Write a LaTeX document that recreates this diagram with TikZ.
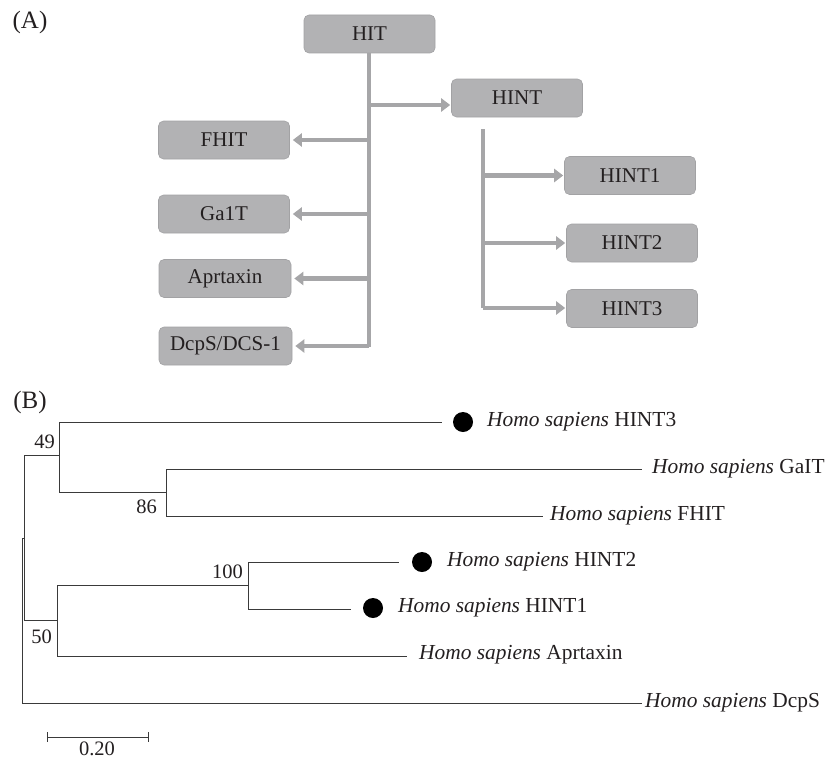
\documentclass[tikz,border=0pt]{standalone}
\usepackage{fontspec}
\setmainfont{Liberation Serif}
\usetikzlibrary{arrows.meta}
\definecolor{boxfill}{HTML}{B2B2B4}
\definecolor{boxedge}{HTML}{A2A2A4}
\definecolor{arrgray}{HTML}{A6A6A8}
\definecolor{txt}{HTML}{231F20}
\definecolor{treeline}{HTML}{3A3A3A}
\tikzset{
  gbox/.style={draw=boxedge, line width=0.6pt, fill=boxfill, rounded corners=5pt,
    minimum width=131pt, minimum height=38pt, inner sep=0pt, text=txt,
    font=\fontsize{21}{24}\selectfont},
  trunk/.style={draw=arrgray, line width=4.2pt},
  garr/.style={draw=arrgray, line width=4.2pt, -{Triangle[length=9pt,width=13pt]}, shorten >=3pt},
  tline/.style={draw=treeline, line width=1pt},
  leaf/.style={anchor=west, inner sep=0pt, text=txt, font=\fontsize{21.4}{24}\selectfont},
  blabel/.style={inner sep=0pt, text=txt, font=\fontsize{20.5}{24}\selectfont},
  dotnode/.style={circle, fill=black, minimum size=20pt, inner sep=0pt},
  panel/.style={inner sep=0pt, text=txt, font=\fontsize{25}{28}\selectfont}
}
\begin{document}
\begin{tikzpicture}[x=1pt, y=-1pt]
\useasboundingbox (0,0) rectangle (826,760);

% ---------- Panel A ----------
\node[panel] (labA) at (30,22) {(A)};
\node[gbox] (HIT) at (369.5,34) {HIT};
\node[gbox] (HINT) at (517,98) {HINT};
\node[gbox] (FHIT) at (224,140) {FHIT};
\node[gbox] (GalT) at (224,214) {Ga1T};
\node[gbox, minimum width=132pt] (Aprt) at (225,278.5) {Aprtaxin};
\node[gbox, minimum width=133pt] (Dcps) at (225.5,346) {DcpS/DCS-1};
\node[gbox] (HINT1) at (630,175.5) {HINT1};
\node[gbox] (HINT2) at (632,243) {HINT2};
\node[gbox] (HINT3) at (632,308.5) {HINT3};

\coordinate (trunkend) at (369,347);
\draw[trunk] (HIT.south -| trunkend) -- (trunkend);
\coordinate (hintin) at ([yshift=-7pt]HINT.west);
\draw[garr, shorten >=1pt] (trunkend |- hintin) -- (hintin);
\draw[garr] (trunkend |- FHIT.east) -- (FHIT.east);
\draw[garr] (trunkend |- GalT.east) -- (GalT.east);
\draw[garr] (trunkend |- Aprt.east) -- (Aprt.east);
\draw[garr] (trunkend |- Dcps.east) -- (Dcps.east);

\coordinate (htop) at (483,129);
\coordinate (hbot) at (483,308);
\draw[trunk] (htop) -- (hbot);
\draw[garr, shorten >=1pt] (htop |- HINT1.west) -- (HINT1.west);
\draw[garr, shorten >=1pt] (htop |- HINT2.west) -- (HINT2.west);
\draw[garr, shorten >=1pt] (hbot) -- (hbot -| HINT3.west);

% ---------- Panel B ----------
\node[panel] (labB) at (30,402) {(B)};

\coordinate (root) at (22,538);
\coordinate (rootb) at (22,703);
\coordinate (nA) at (24,538);
\coordinate (nAt) at (24,455);
\coordinate (nAb) at (24,620);
\coordinate (n49) at (59,455);
\coordinate (n49t) at (59,422);
\coordinate (n49b) at (59,492);
\coordinate (n86) at (166,492);
\coordinate (n86t) at (166,469);
\coordinate (n86b) at (166,516);
\coordinate (n50) at (57,620);
\coordinate (n50t) at (57,585);
\coordinate (n50b) at (57,656);
\coordinate (n100) at (248,585);
\coordinate (n100t) at (248,562);
\coordinate (n100b) at (248,609);

% leaves
\coordinate (eHINT3) at (442,422);
\node[dotnode] (dHINT3) at (463,422) {};
\node[leaf] (tHINT3) at (487,422) {\textit{Homo sapiens} HINT3};
\coordinate (eGalT) at (642,469);
\node[leaf] (tGalT) at (652,469) {\textit{Homo sapiens} GaIT};
\coordinate (eFHIT) at (543,516);
\node[leaf] (tFHIT) at (550,516) {\textit{Homo sapiens} FHIT};
\coordinate (eHINT2) at (399,562);
\node[dotnode] (dHINT2) at (422,562) {};
\node[leaf] (tHINT2) at (447,562) {\textit{Homo sapiens} HINT2};
\coordinate (eHINT1) at (351,609);
\node[dotnode] (dHINT1) at (373,608) {};
\node[leaf] (tHINT1) at (398,608) {\textit{Homo sapiens} HINT1};
\coordinate (eAprt) at (407,656);
\node[leaf] (tAprt) at (419,655) {\textit{Homo sapiens} Aprtaxin};
\coordinate (eDcps) at (642,703);
\node[leaf] (tDcps) at (645,703) {\textit{Homo sapiens} DcpS};

% branches
\draw[tline] (root) -- (rootb) -- (eDcps);
\draw[tline] (root) -- (nA);
\draw[tline] (nAt) -- (nAb);
\draw[tline] (nAt) -- (n49);
\draw[tline] (n49t) -- (n49b);
\draw[tline] (n49t) -- (eHINT3);
\draw[tline] (n49b) -- (n86);
\draw[tline] (n86t) -- (n86b);
\draw[tline] (n86t) -- (eGalT);
\draw[tline] (n86b) -- (eFHIT);
\draw[tline] (nAb) -- (n50);
\draw[tline] (n50t) -- (n50b);
\draw[tline] (n50b) -- (eAprt);
\draw[tline] (n50t) -- (n100);
\draw[tline] (n100t) -- (n100b);
\draw[tline] (n100t) -- (eHINT2);
\draw[tline] (n100b) -- (eHINT1);

% bootstrap values
\node[blabel, anchor=east] (b49) at (55,442) {49};
\node[blabel, anchor=east] (b86) at (157,507) {86};
\node[blabel, anchor=east] (b50) at (52,637) {50};
\node[blabel, anchor=east] (b100) at (243,572) {100};

% scale bar
\coordinate (sbl) at (47,737);
\coordinate (sbr) at (148,737);
\draw[tline] (sbl) -- (sbr);
\draw[tline] ([yshift=5pt]sbl) -- ([yshift=-5pt]sbl);
\draw[tline] ([yshift=5pt]sbr) -- ([yshift=-5pt]sbr);
\node[blabel] (sblab) at (97,749) {0.20};
\end{tikzpicture}
\end{document}
